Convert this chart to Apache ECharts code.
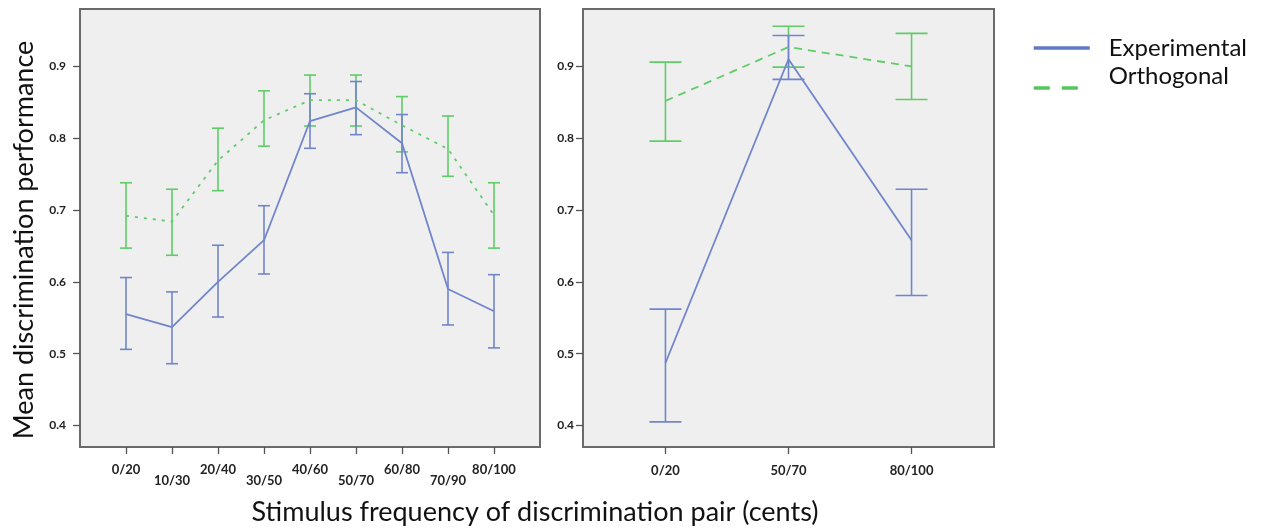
<!DOCTYPE html>
<html>
<head>
<meta charset="utf-8">
<script src="https://cdn.jsdelivr.net/npm/echarts@6/dist/echarts.min.js"></script>
<style>html,body{margin:0;padding:0;background:#fff}#c{width:1261px;height:528px}</style>
</head>
<body>
<div id="c"></div>
<script>
const xLabelsLeft = ['0/20','10/30','20/40','30/50','40/60','50/70','60/80','70/90','80/100'];
const xLabelsRight = ['0/20','50/70','80/100'];
const yTicks = [0.4, 0.5, 0.6, 0.7, 0.8, 0.9];
const seriesNames = ['Experimental', 'Orthogonal'];

const expLeftMean = [0.555, 0.537, 0.600, 0.658, 0.824, 0.843, 0.793, 0.590, 0.559];
const expLeftLow  = [0.506, 0.486, 0.551, 0.611, 0.786, 0.805, 0.752, 0.540, 0.508];
const expLeftHigh = [0.606, 0.586, 0.651, 0.706, 0.862, 0.879, 0.833, 0.641, 0.610];
const ortLeftMean = [0.692, 0.684, 0.769, 0.825, 0.853, 0.853, 0.818, 0.785, 0.693];
const ortLeftLow  = [0.647, 0.637, 0.727, 0.789, 0.817, 0.817, 0.781, 0.747, 0.647];
const ortLeftHigh = [0.738, 0.729, 0.814, 0.866, 0.888, 0.888, 0.858, 0.831, 0.738];

const expRightMean = [0.487, 0.910, 0.658];
const expRightLow  = [0.405, 0.882, 0.581];
const expRightHigh = [0.562, 0.943, 0.729];
const ortRightMean = [0.852, 0.927, 0.900];
const ortRightLow  = [0.796, 0.899, 0.854];
const ortRightHigh = [0.906, 0.956, 0.946];

const BLUE = '#7185cb';
const GREEN = '#5fcc68';
const FONT = 'Lato';

function errSeries(low, high, color, gi) {
  return {
    type: 'custom', xAxisIndex: gi, yAxisIndex: gi, z: 3,
    data: low.map((l, i) => [i, l, high[i]]),
    renderItem: function (params, api) {
      const x = api.value(0);
      const p1 = api.coord([x, api.value(1)]);
      const p2 = api.coord([x, api.value(2)]);
      const half = api.size([0.13, 0])[0];
      const st = { stroke: color, lineWidth: 1.6 };
      return { type: 'group', children: [
        { type: 'line', shape: { x1: p1[0], y1: p1[1], x2: p2[0], y2: p2[1] }, style: st },
        { type: 'line', shape: { x1: p1[0] - half, y1: p1[1], x2: p1[0] + half, y2: p1[1] }, style: st },
        { type: 'line', shape: { x1: p2[0] - half, y1: p2[1], x2: p2[0] + half, y2: p2[1] }, style: st }
      ]};
    }
  };
}
function lineSeries(name, mean, color, gi, type) {
  return {
    type: 'line', name: name, xAxisIndex: gi, yAxisIndex: gi, z: 4,
    symbol: 'none', data: mean.map((m, i) => [i, m]),
    lineStyle: { color: color, width: 1.8, type: type }, itemStyle: { color: color }
  };
}
function yAxis(gi, margin) {
  return {
    type: 'value', gridIndex: gi, min: 0.37, max: 0.98,
    axisLine: { show: false, onZero: false }, splitLine: { show: false },
    axisTick: { show: true, length: 7, customValues: yTicks, lineStyle: { color: '#555', width: 1.3 } },
    axisLabel: { customValues: yTicks, formatter: v => v.toFixed(1), margin: margin,
      fontFamily: FONT, fontSize: 12, fontWeight: 'bold', color: '#222' }
  };
}
function xAxis(gi, labels, min, max, margin, stagger) {
  const idx = labels.map((_, i) => i);
  return {
    type: 'value', gridIndex: gi, min: min, max: max,
    axisLine: { show: false, onZero: false }, splitLine: { show: false },
    axisTick: { show: true, length: 7, customValues: idx, lineStyle: { color: '#555', width: 1.3 } },
    axisLabel: { customValues: idx, margin: margin, lineHeight: 11,
      formatter: v => (stagger && v % 2 ? '\n' : '') + labels[v],
      fontFamily: FONT, fontSize: 13, fontWeight: 'bold', color: '#222' }
  };
}
function legend(name, top, lineStyle, lift) {
  return {
    orient: 'vertical', left: 1027, top: top, itemWidth: 56, itemHeight: 14,
    formatter: n => lift ? n + '\n ' : n,
    textStyle: { fontFamily: FONT, fontSize: 24, lineHeight: lift ? 24 : undefined, color: '#111', padding: [0, 0, 0, 14] },
    data: [{ name: name, lineStyle: lineStyle, itemStyle: { opacity: 0 } }]
  };
}

const chart = echarts.init(document.getElementById('c'), null, { renderer: 'canvas' });
chart.setOption({
  animation: false,
  backgroundColor: '#ffffff',
  grid: [
    { left: 80, top: 9, width: 460, height: 438, show: true, backgroundColor: '#efefef', borderColor: '#6a6a6a', borderWidth: 2 },
    { left: 583, top: 9, width: 411, height: 438, show: true, backgroundColor: '#efefef', borderColor: '#6a6a6a', borderWidth: 2 }
  ],
  xAxis: [
    xAxis(0, xLabelsLeft, -1, 9, 17, true),
    xAxis(1, xLabelsRight, -0.67, 2.67, 18, false)
  ],
  yAxis: [yAxis(0, 14), yAxis(1, 9)],
  legend: [
    legend(seriesNames[0], 31, { width: 3.5, type: 'solid', color: '#6279c6' }, false),
    legend(seriesNames[1], 59, { width: 3.5, type: [16, 12], color: '#55c65f' }, true)
  ],
  graphic: [
    { type: 'text', x: 24, y: 240, rotation: Math.PI / 2,
      style: { text: 'Mean discrimination performance', font: '27px Lato', fill: '#111', textAlign: 'center', textVerticalAlign: 'middle' } },
    { type: 'text', x: 535, y: 512,
      style: { text: 'Stimulus frequency of discrimination pair (cents)', font: '27px Lato', fill: '#111', textAlign: 'center', textVerticalAlign: 'middle' } }
  ],
  series: [
    lineSeries(seriesNames[0], expLeftMean, BLUE, 0, 'solid'),
    lineSeries(seriesNames[1], ortLeftMean, GREEN, 0, [3, 6]),
    lineSeries(seriesNames[0], expRightMean, BLUE, 1, 'solid'),
    lineSeries(seriesNames[1], ortRightMean, GREEN, 1, [8, 6]),
    errSeries(ortLeftLow, ortLeftHigh, GREEN, 0),
    errSeries(expLeftLow, expLeftHigh, BLUE, 0),
    errSeries(ortRightLow, ortRightHigh, GREEN, 1),
    errSeries(expRightLow, expRightHigh, BLUE, 1)
  ]
});
</script>
</body>
</html>
